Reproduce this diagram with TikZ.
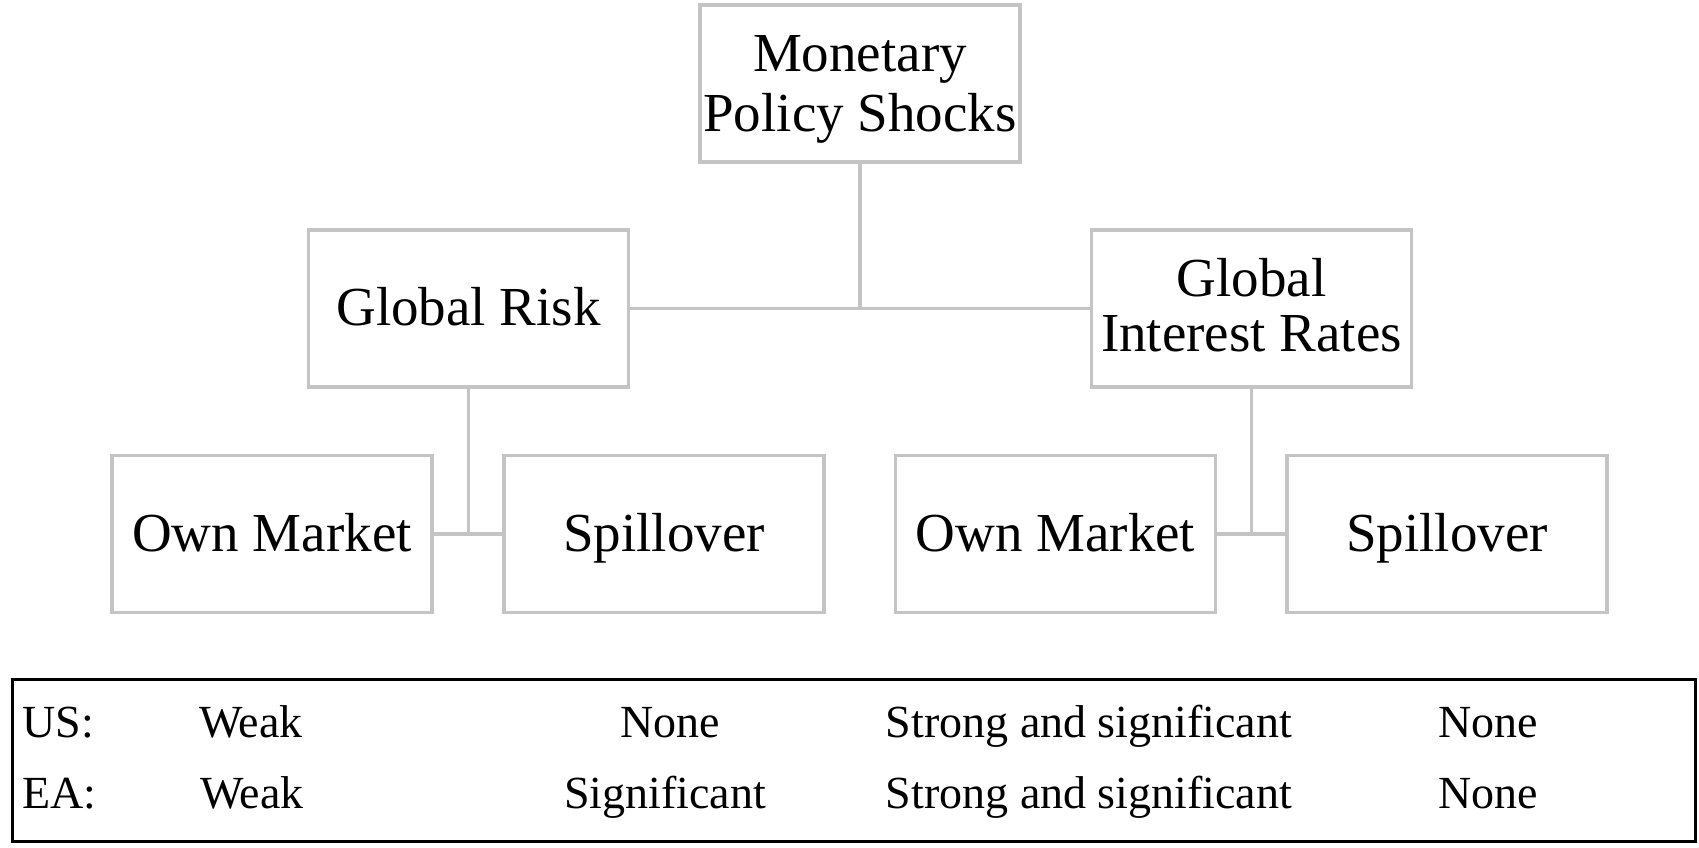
\documentclass[tikz,border=0pt]{standalone}
\usepackage{fontspec}
\setmainfont{Liberation Serif}
\definecolor{boxgray}{RGB}{196,196,196}
\begin{document}
\begin{tikzpicture}[x=0.5pt,y=-0.5pt,
  catbox/.style={draw=boxgray, line width=1.6pt, fill=white, rectangle,
    minimum width=160pt, minimum height=78.5pt, inner sep=0pt, align=center,
    font=\fontsize{27.5pt}{30pt}\selectfont},
  oneline/.style={text height=17pt, text depth=0pt},
  conn/.style={draw=boxgray, line width=1.6pt},
  cell/.style={inner sep=0pt, anchor=base, font=\fontsize{23pt}{25pt}\selectfont}]
  \useasboundingbox (0,0) rectangle (1699,847);

  % hierarchy of channels
  \node[catbox, text height=50.2pt, text depth=2pt] (mps) at (860,83.5)
    {Monetary\\Policy Shocks};
  \node[catbox, oneline] (gr)  at (468.5,308.5) {Global Risk};
  \node[catbox, text height=45.2pt, text depth=2pt,
    font=\fontsize{27.5pt}{27.5pt}\selectfont] (gir) at (1251.5,308.5)
    {Global\\Interest Rates};
  \node[catbox, oneline] (ownL) at (272,534) {Own Market};
  \node[catbox, oneline] (spL)  at (664,534) {Spillover};
  \node[catbox, oneline] (ownR) at (1055.5,534) {Own Market};
  \node[catbox, oneline] (spR)  at (1447,534) {Spillover};

  \draw[conn] (mps.south) -- (mps.south |- gr.east);
  \draw[conn] (gr.east) -- (gir.west);
  \draw[conn] (gr.south) -- (gr.south |- ownL.east);
  \draw[conn] (ownL.east) -- (spL.west);
  \draw[conn] (gir.south) -- (gir.south |- ownR.east);
  \draw[conn] (ownR.east) -- (spR.west);

  % summary of results
  \node[draw=black, line width=1.5pt, rectangle, minimum width=841.5pt,
    minimum height=81pt, inner sep=0pt] (tab) at (854,760.5) {};

  \node[cell, anchor=base west] (us) at (22,737) {US:};
  \node[cell] (usA) at (251,737) {Weak};
  \node[cell] (usB) at (670,737) {None};
  \node[cell] (usC) at (1089,737) {Strong and significant};
  \node[cell] (usD) at (1488,737) {None};

  \node[cell, anchor=base west] (ea) at (22,808) {EA:};
  \node[cell] (eaA) at (252,808) {Weak};
  \node[cell] (eaB) at (665,808) {Significant};
  \node[cell] (eaC) at (1089,808) {Strong and significant};
  \node[cell] (eaD) at (1488,808) {None};
\end{tikzpicture}
\end{document}
